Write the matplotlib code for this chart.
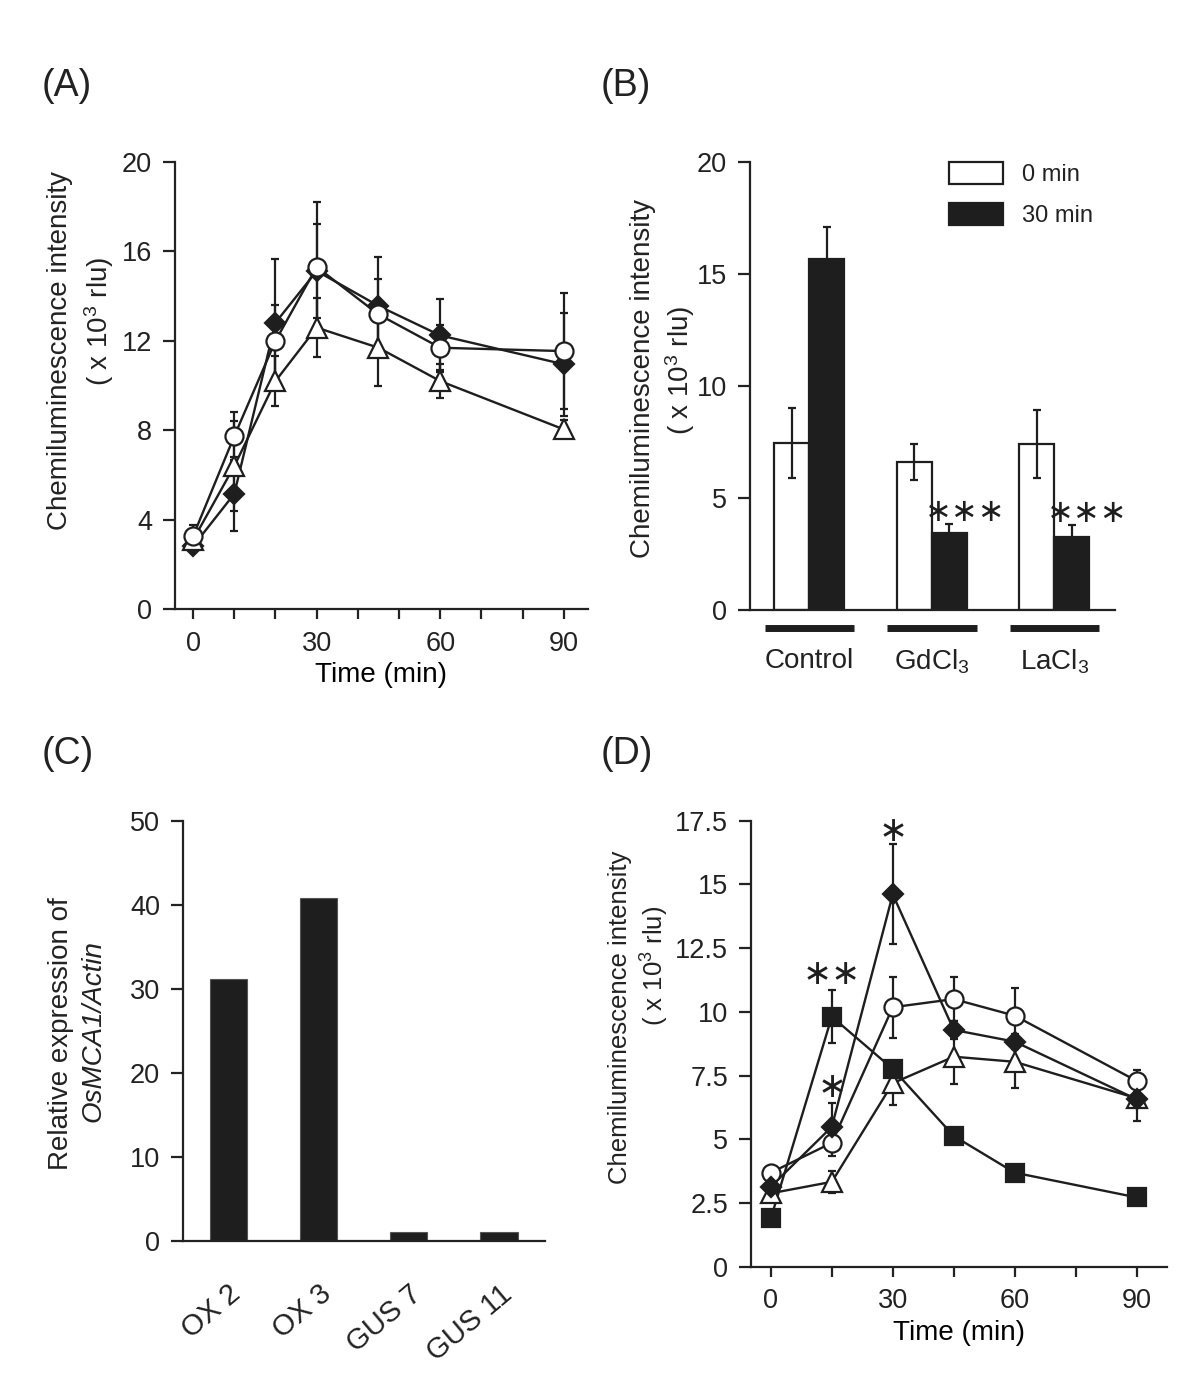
import matplotlib
matplotlib.use("Agg")
import matplotlib.pyplot as plt
from matplotlib.patches import Patch
from matplotlib.ticker import FixedLocator, FuncFormatter

plt.rcParams["font.family"] = ["Liberation Sans", "DejaVu Sans"]
plt.rcParams["mathtext.fontset"] = "custom"
plt.rcParams["mathtext.rm"] = "Liberation Sans"
plt.rcParams["mathtext.it"] = "Liberation Sans:italic"
plt.rcParams["text.color"] = "#222222"
plt.rcParams["axes.edgecolor"] = "#222222"
plt.rcParams["xtick.color"] = "#222222"
plt.rcParams["ytick.color"] = "#222222"

INK = "#1e1e1e"

# ---- (A) time course ----
time_a = [0, 10, 20, 30, 45, 60, 90]
circle_a = [3.27, 7.74, 12.0, 15.3, 13.18, 11.69, 11.54]
circle_a_err = [0.5, 1.07, 1.6, 2.9, 1.6, 1.0, 2.6]
diamond_a = [2.82, 5.16, 12.81, 15.12, 13.56, 12.24, 10.95]
diamond_a_err = [0.25, 1.65, 2.84, 2.1, 2.2, 1.65, 2.3]
triangle_a = [3.1, 6.4, 10.2, 12.59, 11.69, 10.2, 8.04]
triangle_a_err = [0.4, 2.0, 1.1, 1.33, 1.7, 0.75, 0.4]

# ---- (B) inhibitors ----
groups_b = ["Control", "GdCl$_3$", "LaCl$_3$"]
min0_b = [7.47, 6.62, 7.4]
min0_b_err = [1.56, 0.8, 1.52]
min30_b = [15.66, 3.42, 3.27]
min30_b_err = [1.41, 0.42, 0.52]
stars_b = ["", "∗∗∗", "∗∗∗"]

# ---- (C) expression ----
lines_c = ["OX 2", "OX 3", "GUS 7", "GUS 11"]
expr_c = [31.1, 40.8, 1.0, 1.0]

# ---- (D) time course ----
time_d = [0, 15, 30, 45, 60, 90]
circle_d = [3.69, 4.86, 10.18, 10.5, 9.85, 7.29]
circle_d_err = [0.2, 0.5, 1.2, 0.87, 1.07, 0.43]
diamond_d = [3.14, 5.49, 14.61, 9.29, 8.83, 6.57]
diamond_d_err = [0.2, 0.92, 1.96, 0.36, 0.3, 0.3]
triangle_d = [2.88, 3.33, 7.2, 8.24, 8.04, 6.61]
triangle_d_err = [0.2, 0.43, 0.85, 1.06, 1.04, 0.9]
square_d = [1.9, 9.81, 7.76, 5.13, 3.69, 2.72]
square_d_err = [0.1, 1.05, 0.3, 0.3, 0.25, 0.2]
stars_d = [(30, 17.1, "∗"), (15, 11.5, "∗∗"), (15, 7.05, "∗")]

TICK_FS = 19.5
LABEL_FS = 20


def style_axes(ax):
    for side in ("top", "right"):
        ax.spines[side].set_visible(False)
    for side in ("left", "bottom"):
        ax.spines[side].set_linewidth(1.6)
    ax.tick_params(axis="y", direction="out", length=8.5, width=1.6,
                   labelsize=TICK_FS, pad=8)
    ax.tick_params(axis="x", which="both", direction="out", length=7.5,
                   width=1.6, labelsize=TICK_FS, pad=8)


def series(ax, x, y, err, marker, face, ms, z):
    ax.errorbar(x, y, yerr=err, fmt="none", ecolor=INK, elinewidth=1.6,
                capsize=3, capthick=1.6, zorder=1)
    ax.plot(x, y, color=INK, lw=1.7, zorder=2)
    ax.plot(x, y, ls="none", marker=marker, ms=ms, mfc=face, mec=INK,
            mew=1.6, zorder=z)


fig = plt.figure(figsize=(12, 13.77), dpi=100)

# (A)
axA = fig.add_axes([0.1458, 0.5575, 0.344, 0.325])
style_axes(axA)
series(axA, time_a, diamond_a, diamond_a_err, "D", INK, 10, 3)
series(axA, time_a, triangle_a, triangle_a_err, "^", "white", 14, 4)
series(axA, time_a, circle_a, circle_a_err, "o", "white", 13, 5)
axA.set_xlim(-4.4, 95.8)
axA.set_ylim(0, 20)
axA.set_yticks([0, 4, 8, 12, 16, 20])
axA.set_xticks([0, 30, 60, 90])
axA.xaxis.set_minor_locator(FixedLocator(list(range(10, 90, 10))))
axA.set_xlabel("Time (min)", fontsize=LABEL_FS, labelpad=4)

# (B)
axB = fig.add_axes([0.625, 0.557, 0.304, 0.3256])
style_axes(axB)
centers_b = [i * 3.5 for i in range(len(groups_b))]
axB.bar([c - 0.5 for c in centers_b], min0_b, width=1.0, color="white",
        edgecolor=INK, lw=1.6, yerr=min0_b_err, capsize=3,
        error_kw=dict(elinewidth=1.6, capthick=1.6, ecolor=INK),
        label="0 min", zorder=2)
axB.bar([c + 0.5 for c in centers_b], min30_b, width=1.0, color=INK,
        edgecolor=INK, lw=1.6, yerr=min30_b_err, capsize=3,
        error_kw=dict(elinewidth=1.6, capthick=1.6, ecolor=INK),
        label="30 min", zorder=2)
for c, v, e, s in zip(centers_b, min30_b, min30_b_err, stars_b):
    if s:
        axB.text(c + 0.95, v + e + 0.5, s, ha="center", va="center",
                 fontsize=23, family="DejaVu Sans", color=INK)
trans = axB.get_xaxis_transform()
for c in centers_b:
    axB.plot([c - 1.28, c + 1.28], [-0.04, -0.04], color=INK, lw=5,
             solid_capstyle="butt", transform=trans, clip_on=False)
axB.set_xlim(-1.7, 8.73)
axB.set_ylim(0, 20)
axB.set_yticks([0, 5, 10, 15, 20])
axB.set_xticks(centers_b)
axB.set_xticklabels(groups_b, fontsize=LABEL_FS)
axB.tick_params(axis="x", length=0, pad=27)
axB.legend(handles=[Patch(facecolor="white", edgecolor=INK, lw=1.6),
                    Patch(facecolor=INK, edgecolor=INK, lw=1.6)],
           labels=["0 min", "30 min"], loc="upper left",
           bbox_to_anchor=(0.545, 1.0), frameon=False, fontsize=17,
           handlelength=2.3, handleheight=1.1, handletextpad=0.8,
           labelspacing=0.7, borderpad=0, borderaxespad=0)

# (C)
axC = fig.add_axes([0.1525, 0.099, 0.3017, 0.305])
style_axes(axC)
pos_c = list(range(len(lines_c)))
axC.bar(pos_c, expr_c, width=0.41, color=INK, edgecolor="#555555", lw=0.8)
axC.set_xlim(-0.5, 3.51)
axC.set_ylim(0, 50)
axC.set_yticks([0, 10, 20, 30, 40, 50])
axC.set_xticks(pos_c)
axC.set_xticklabels(lines_c, rotation=40, ha="right", va="top",
                    rotation_mode="anchor", fontsize=21)
axC.tick_params(axis="x", length=0, pad=28)

# (D)
axD = fig.add_axes([0.6258, 0.0801, 0.3464, 0.3239])
style_axes(axD)
series(axD, time_d, triangle_d, triangle_d_err, "^", "white", 14, 3)
series(axD, time_d, circle_d, circle_d_err, "o", "white", 13, 4)
series(axD, time_d, diamond_d, diamond_d_err, "D", INK, 10, 5)
series(axD, time_d, square_d, square_d_err, "s", INK, 13, 6)
for x, y, s in stars_d:
    axD.text(x, y, s, ha="center", va="center", fontsize=25,
             family="DejaVu Sans", color=INK)
axD.set_xlim(-4.9, 97.4)
axD.set_ylim(0, 17.5)
axD.set_yticks([0, 2.5, 5, 7.5, 10, 12.5, 15, 17.5])
axD.yaxis.set_major_formatter(FuncFormatter(lambda v, p: f"{v:g}"))
axD.set_xticks([0, 30, 60, 90])
axD.xaxis.set_minor_locator(FixedLocator([15, 45, 75]))
axD.set_xlabel("Time (min)", fontsize=LABEL_FS, labelpad=4)


def fig_text(px, py, s, **kw):
    fig.text(px / 1200, 1 - py / 1377, s, **kw)


# y labels (two lines each, placed as in the original)
ylab = "Chemiluminescence intensity"
unit = "( x 10$^3$ rlu)"
fig_text(60, 350, ylab, rotation=90, ha="center", va="center", fontsize=LABEL_FS)
fig_text(99, 321, unit, rotation=90, ha="center", va="center", fontsize=LABEL_FS)
fig_text(643, 378, ylab, rotation=90, ha="center", va="center", fontsize=LABEL_FS)
fig_text(680, 370, unit, rotation=90, ha="center", va="center", fontsize=LABEL_FS)
fig_text(61, 1034, "Relative expression of", rotation=90, ha="center",
         va="center", fontsize=LABEL_FS)
fig_text(94, 1031, "OsMCA1/Actin", rotation=90, ha="center", va="center",
         fontsize=LABEL_FS, style="italic")
fig_text(620, 1017, ylab, rotation=90, ha="center", va="center", fontsize=18.5)
fig_text(655, 966, unit, rotation=90, ha="center", va="center", fontsize=18.5)

# panel letters
for px, py, s in [(42, 86, "(A)"), (601, 86, "(B)"),
                  (42, 754, "(C)"), (601, 754, "(D)")]:
    fig_text(px, py, s, ha="left", va="center", fontsize=27)

fig.savefig("out.png", dpi=100)
